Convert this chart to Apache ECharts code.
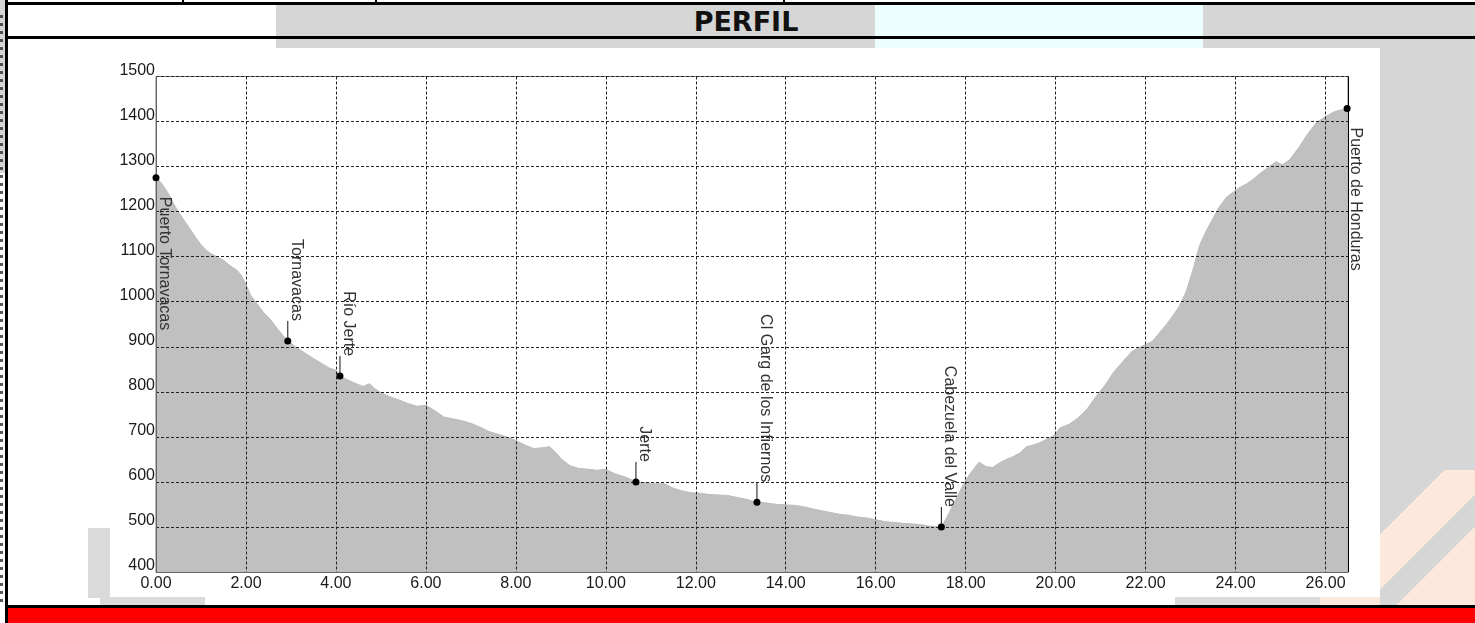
<!DOCTYPE html>
<html lang="es">

<head>
    <meta charset="UTF-8">
    <title>Perfil</title>
    <style>
        body { margin: 0; width: 1475px; height: 623px; overflow: hidden; position: relative; background: #fff; }
        .b { position: absolute; }
        #title { position: absolute; left: 276px; width: 940px; top: 6px; height: 31px; line-height: 33px;
                 text-align: center; font: bold 27px "DejaVu Sans", Verdana, sans-serif; color: #111; }
        #chart { position: absolute; left: 0; top: 0; width: 1475px; height: 623px; }
    </style>
</head>

<body onload="setup()">
    <!-- page frame around the chart -->
    <div class="b" style="left:0;top:0;width:5px;height:173px;background:#d6d6d6"></div>
    <div class="b" style="left:0;top:15px;width:3px;height:590px;opacity:.75;
        background:repeating-linear-gradient(to bottom,#222 0 3px,transparent 3px 8px)"></div>
    <div class="b" style="left:5px;top:0;width:3px;height:623px;background:#000"></div>
    <div class="b" style="left:182px;top:0;width:2px;height:3px;background:#000"></div>
    <div class="b" style="left:375px;top:0;width:2px;height:3px;background:#000"></div>
    <div class="b" style="left:783px;top:0;width:2px;height:3px;background:#000"></div>
    <div class="b" style="left:276px;top:5px;width:599px;height:43px;background:#d6d6d6"></div>
    <div class="b" style="left:875px;top:5px;width:328px;height:43px;background:#ebffff"></div>
    <div class="b" style="left:1203px;top:5px;width:272px;height:600px;background:#d6d6d6"></div>
    <div class="b" style="left:1380px;top:470px;width:95px;height:135px;
        background:linear-gradient(135deg,#d6d6d6 0 28%,#fde8dc 28% 52%,#d6d6d6 52% 66%,#fde8dc 66%)"></div>
    <div class="b" style="left:8px;top:48px;width:1372px;height:557px;background:#fff"></div>
    <div class="b" style="left:88px;top:528px;width:22px;height:70px;background:#dadada"></div>
    <div class="b" style="left:100px;top:597px;width:105px;height:8px;background:#dadada"></div>
    <div class="b" style="left:1175px;top:597px;width:145px;height:8px;background:#dadada"></div>
    <div class="b" style="left:1320px;top:597px;width:60px;height:8px;background:#fde8dc"></div>
    <div class="b" style="left:8px;top:2px;width:1467px;height:3px;background:#000"></div>
    <div class="b" style="left:8px;top:36px;width:1467px;height:3px;background:#000"></div>
    <div class="b" style="left:8px;top:605px;width:1467px;height:3px;background:#000"></div>
    <div class="b" style="left:8px;top:608px;width:1467px;height:15px;background:#ff0000"></div>
    <div id="title">PERFIL</div>

    <div id="chart"></div>
    <script src="https://cdn.jsdelivr.net/npm/echarts@6/dist/echarts.min.js"></script>
    <script>

        // distance (km) and altitude (m)
        var kmValues = [
            0.00, 0.10, 0.20, 0.30, 0.40, 0.50, 0.60, 0.70, 0.80, 0.90,
            1.00, 1.10, 1.20, 1.35, 1.50, 1.65, 1.80, 1.90, 2.00, 2.10,
            2.25, 2.40, 2.55, 2.70, 2.85, 2.93, 3.10, 3.30, 3.50, 3.70,
            3.85, 4.00, 4.09, 4.25, 4.45, 4.60, 4.75, 4.85, 5.00, 5.20,
            5.40, 5.60, 5.80, 6.00, 6.20, 6.40, 6.60, 6.80, 7.00, 7.20,
            7.40, 7.60, 7.80, 8.00, 8.20, 8.40, 8.60, 8.75, 8.90, 9.00,
            9.20, 9.40, 9.60, 9.80, 10.00, 10.20, 10.40, 10.55, 10.67, 10.90,
            11.10, 11.30, 11.50, 11.70, 11.90, 12.10, 12.30, 12.50, 12.70, 12.90,
            13.10, 13.36, 13.60, 13.80, 14.00, 14.20, 14.40, 14.60, 14.80, 15.00,
            15.20, 15.40, 15.60, 15.80, 16.00, 16.20, 16.40, 16.60, 16.80, 17.00,
            17.20, 17.46, 17.60, 17.75, 17.90, 18.00, 18.15, 18.30, 18.45, 18.60,
            18.75, 18.90, 19.05, 19.20, 19.35, 19.50, 19.65, 19.80, 19.95, 20.10,
            20.30, 20.50, 20.70, 20.90, 21.10, 21.30, 21.50, 21.70, 21.85, 22.00,
            22.15, 22.30, 22.45, 22.60, 22.75, 22.90, 23.05, 23.20, 23.36, 23.50,
            23.64, 23.80, 23.93, 24.10, 24.25, 24.38, 24.55, 24.75, 24.90, 25.04,
            25.20, 25.42, 25.60, 25.80, 26.00, 26.20, 26.35, 26.48
        ]
        var elevValues = [
            1275, 1266, 1252, 1236, 1216, 1200, 1184, 1170, 1155, 1140,
            1127, 1116, 1108, 1100, 1092, 1080, 1070, 1058, 1038, 1015,
            995, 975, 960, 940, 922, 913, 900, 887, 874, 862,
            853, 848, 835, 827, 818, 812, 818, 808, 798, 789,
            782, 774, 768, 770, 758, 744, 740, 736, 730, 722,
            712, 706, 700, 692, 682, 674, 676, 678, 664, 652,
            636, 630, 628, 626, 628, 618, 612, 606, 600, 598,
            596, 596, 586, 580, 576, 575, 572, 571, 570, 566,
            562, 555, 553, 550, 549, 548, 545, 540, 536, 532,
            528, 526, 522, 520, 516, 512, 510, 508, 507, 505,
            502, 500, 525, 555, 585, 604, 625, 644, 634, 632,
            642, 650, 656, 664, 678, 682, 687, 695, 702, 720,
            728, 742, 762, 790, 815, 845, 868, 890, 898, 905,
            912, 930, 948, 968, 990, 1022, 1070, 1125, 1160, 1185,
            1211, 1232, 1242, 1254, 1262, 1271, 1285, 1300, 1311, 1304,
            1315, 1344, 1372, 1398, 1411, 1422, 1426, 1429
        ]

        // waypoints
        var wpNames = ['Puerto Tornavacas', 'Tornavacas', 'Río Jerte', 'Jerte',
            'Cl Garg de los Infiernos', 'Cabezuela del Valle', 'Puerto de Honduras']
        var wpKm = [0.00, 2.93, 4.09, 10.67, 13.36, 17.46, 26.48]
        var wpElev = [1275, 913, 835, 600, 555, 500, 1429]

        var xMin = 0, xMax = 26.5, xStep = 2
        var yMin = 400, yMax = 1500, yStep = 100

        var chart
        function setup() {
            chart = echarts.init(document.getElementById('chart'))
            chart.setOption(option, true)
        }

        var axisFont = { color: '#1a1a1a', fontSize: 16, fontFamily: 'Liberation Sans' }
        var dashed = { show: true, lineStyle: { color: '#222', width: 1, type: [3, 2] } }

        var option = {
            animation: false,
            grid: {
                left: 156, right: 127, top: 76.5, bottom: 51,
                show: true, borderColor: '#777', borderWidth: 1
            },
            xAxis: {
                type: 'value', min: xMin, max: xMax, interval: xStep, z: 3,
                axisLine: { show: true, lineStyle: { color: '#666' } },
                axisTick: { show: false },
                splitLine: dashed,
                axisLabel: Object.assign({
                    margin: 4, showMaxLabel: false,
                    formatter: function (v) { return v.toFixed(2) }
                }, axisFont)
            },
            yAxis: {
                type: 'value', min: yMin, max: yMax, interval: yStep, z: 3,
                axisLine: { show: true, lineStyle: { color: '#666' } },
                axisTick: { show: false },
                splitLine: dashed,
                axisLabel: Object.assign({
                    margin: 1, verticalAlign: 'bottom', lineHeight: 12,
                    formatter: function (v) { return String(v) }
                }, axisFont)
            },
            series: [
                {
                    type: 'line',
                    data: kmValues.map(function (k, i) { return [k, elevValues[i]] }),
                    showSymbol: false,
                    lineStyle: { color: '#bcbcbc', width: 1 },
                    areaStyle: { color: '#c0c0c0', opacity: 1, origin: 'start' },
                    z: 2,
                    markLine: {
                        silent: true, symbol: 'none', label: { show: false },
                        lineStyle: { color: '#000', type: 'solid', width: 1 },
                        data: [{ xAxis: xMax }]
                    }
                },
                {
                    type: 'custom',
                    z: 5,
                    data: wpKm.map(function (k, i) { return [k, wpElev[i], i] }),
                    renderItem: function (params, api) {
                        var i = api.value(2)
                        var p = api.coord([api.value(0), api.value(1)])
                        var below = (i === 0 || i === wpNames.length - 1)
                        var kids = []
                        if (!below) {
                            kids.push({
                                type: 'line',
                                shape: { x1: p[0], y1: p[1], x2: p[0], y2: p[1] - 20 },
                                style: { stroke: '#111', lineWidth: 1 }
                            })
                        }
                        kids.push({
                            type: 'text',
                            x: p[0] + 0.5, y: below ? p[1] + 19 : p[1] - 20,
                            rotation: -Math.PI / 2,
                            style: {
                                text: wpNames[i], fontSize: 16, fontFamily: 'Liberation Sans',
                                fill: '#333', align: below ? 'left' : 'right', verticalAlign: 'bottom'
                            }
                        })
                        kids.push({
                            type: 'circle',
                            shape: { cx: p[0], cy: p[1], r: 3.5 },
                            style: { fill: '#000' }
                        })
                        return { type: 'group', children: kids }
                    }
                }
            ]
        }
    </script>
</body>

</html>
